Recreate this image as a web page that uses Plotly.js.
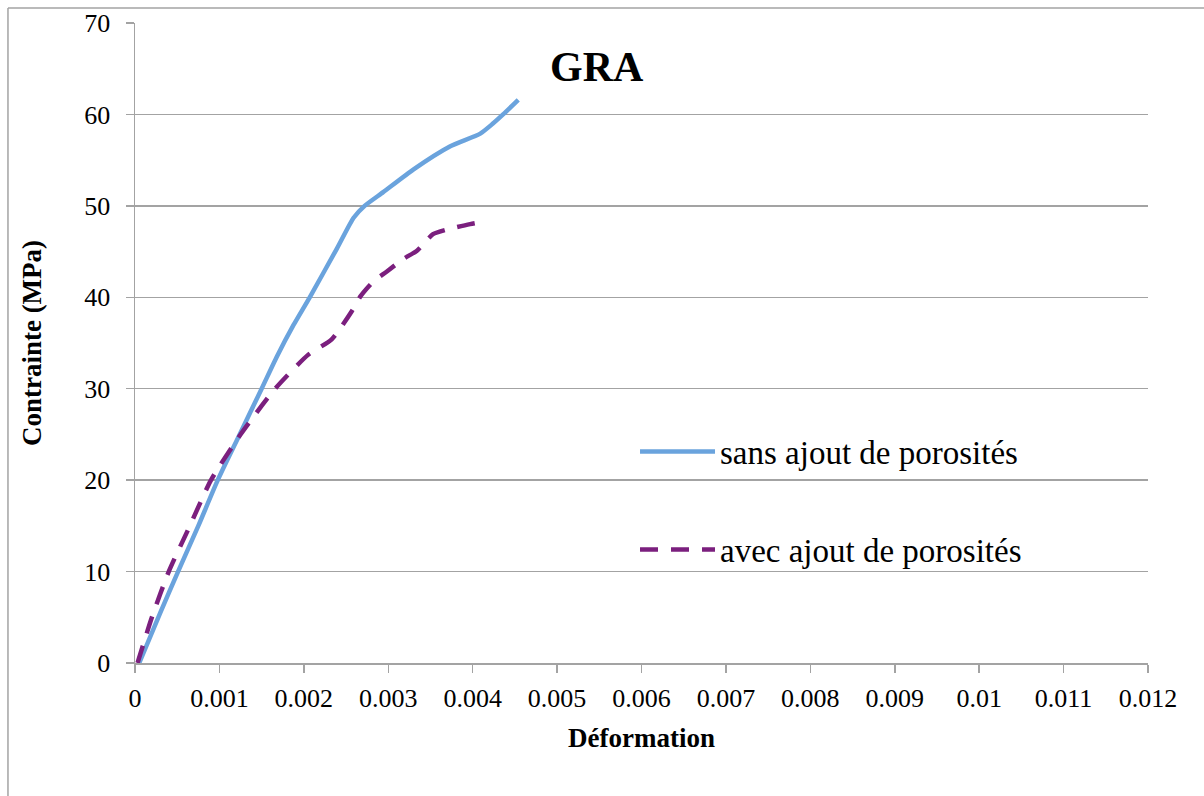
<!DOCTYPE html>
<html>
<head>
<meta charset="utf-8">
<script src="https://cdn.plot.ly/plotly-3.0.1.min.js"></script>
<style>html,body{margin:0;padding:0;background:#fff;}#chart{width:1204px;height:796px;}</style>
</head>
<body>
<div id="chart"></div>
<script>
// Series: "sans ajout de porosités"
const sansStrain = [0.00005, 0.0003, 0.00051, 0.00075, 0.00098, 0.00124, 0.0015, 0.00168, 0.00188, 0.00207, 0.00239, 0.00259, 0.00272, 0.00294, 0.0033, 0.00373, 0.00409, 0.00424, 0.00436, 0.00454];
const sansStress = [0, 5.5, 10, 15, 20, 25, 30, 33.5, 37, 40, 45.3, 48.7, 50, 51.5, 54, 56.5, 57.9, 59, 60, 61.6];
// Series: "avec ajout de porosités"
const avecStrain = [0.00003, 0.0002, 0.0004, 0.00065, 0.0009, 0.00125, 0.00166, 0.00205, 0.00233, 0.00257, 0.00267, 0.00282, 0.00298, 0.00318, 0.00334, 0.00353, 0.00369, 0.00397, 0.00415];
const avecStress = [0, 5, 10, 15, 20, 25, 30, 33.7, 35.4, 38.5, 40.1, 41.7, 42.8, 44.2, 45.1, 46.9, 47.4, 48.0, 48.3];
// Tick labels
const xTickVals = [0, 0.001, 0.002, 0.003, 0.004, 0.005, 0.006, 0.007, 0.008, 0.009, 0.01, 0.011, 0.012];
const xTickText = ["0", "0.001", "0.002", "0.003", "0.004", "0.005", "0.006", "0.007", "0.008", "0.009", "0.01", "0.011", "0.012"];
const yTickVals = [0, 10, 20, 30, 40, 50, 60, 70];
const yTickText = ["0", "10", "20", "30", "40", "50", "60", "70"];
const seriesNames = ["sans ajout de porosités", "avec ajout de porosités"];
const chartTitle = "GRA";

const serif = "Liberation Serif, Times New Roman, serif";
const grey = "#a3a3a3";

const traces = [
  {x: sansStrain, y: sansStress, type: "scatter", mode: "lines", name: seriesNames[0],
   legendgroup: "a", line: {color: "#6aa3dd", width: 4.5, shape: "spline", smoothing: 0.6}},
  {x: avecStrain, y: avecStress, type: "scatter", mode: "lines", name: seriesNames[1],
   legendgroup: "b", line: {color: "#7b1f7e", width: 4.5, dash: "18px,13px", shape: "spline", smoothing: 0.6}}
];

const layout = {
  width: 1204, height: 796,
  margin: {l: 135, r: 56, t: 23, b: 133},
  paper_bgcolor: "#ffffff", plot_bgcolor: "#ffffff",
  showlegend: true,
  font: {family: serif, color: "#000"},
  xaxis: {
    range: [0, 0.012], tickvals: xTickVals, ticktext: xTickText,
    showgrid: false, zeroline: false, showline: true, linecolor: grey, linewidth: 1.5,
    ticks: "outside", ticklen: 8, tickcolor: grey, tickwidth: 1.5,
    tickfont: {family: serif, size: 26, color: "#000"},
    ticklabelstandoff: 3,
    title: {text: "Déformation", font: {family: serif, size: 27, weight: "bold", color: "#000"}, standoff: 16},
    fixedrange: true
  },
  yaxis: {
    range: [0, 70], tickvals: yTickVals, ticktext: yTickText,
    showgrid: true, gridcolor: grey, gridwidth: 1.5, zeroline: false,
    showline: true, linecolor: grey, linewidth: 1.5,
    ticks: "outside", ticklen: 8, tickcolor: grey, tickwidth: 1.5,
    tickfont: {family: serif, size: 26, color: "#000"},
    ticklabelstandoff: 10,
    title: {text: "Contrainte (MPa)", font: {family: serif, size: 27, weight: "bold", color: "#000"}, standoff: 35},
    fixedrange: true
  },
  legend: {
    x: 0.4936, y: 0.374, xanchor: "left", yanchor: "top",
    bgcolor: "rgba(0,0,0,0)", borderwidth: 0,
    font: {family: serif, size: 33, color: "#000"},
    tracegroupgap: 52, itemwidth: 75
  },
  annotations: [
    {text: chartTitle, xref: "paper", yref: "paper", x: 0.456, y: 0.931, xanchor: "center", yanchor: "middle",
     showarrow: false, font: {family: serif, size: 42, weight: "bold", color: "#000"}}
  ],
  shapes: [
    {type: "line", xref: "paper", yref: "paper", x0: -0.1254, x1: -0.1254, y0: 1.0234, y1: -0.25, line: {color: grey, width: 1.5}},
    {type: "line", xref: "paper", yref: "paper", x0: -0.1254, x1: 1.1, y0: 1.0234, y1: 1.0234, line: {color: grey, width: 1.5}}
  ]
};

Plotly.newPlot("chart", traces, layout, {displayModeBar: false, staticPlot: true});
</script>
</body>
</html>
